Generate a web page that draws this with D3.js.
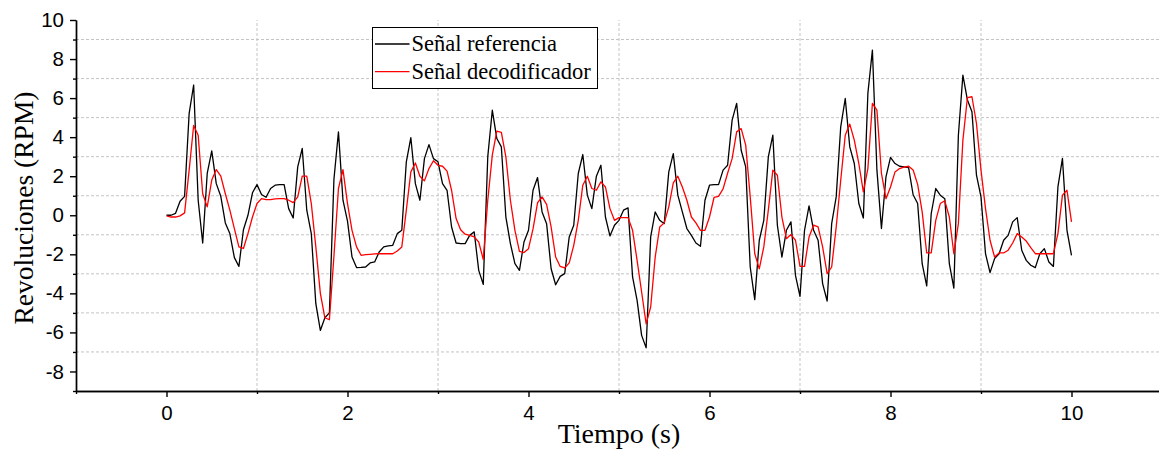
<!DOCTYPE html>
<html>
<head>
<meta charset="utf-8">
<script src="https://cdn.jsdelivr.net/npm/d3@7"></script>
<style>
  body { margin: 0; background: #fff; }
  .tick text { font-family: "Liberation Sans", Arial, sans-serif; font-size: 20.5px; fill: #000; }
  .grid line { stroke: #c4c4c4; stroke-width: 1; stroke-dasharray: 3,2; }
</style>
</head>
<body>
<svg id="chart" width="1159" height="452"></svg>
<script>
// muestreo cada 0.05 s, de 0 a 10 s
const step = 0.05;

const referencia = [
  0, 0, 0.1, 0.72, 0.97, 5.2, 6.67, 0.77, -1.42, 2.14, 3.3,
  1.62, 0.97, -0.39, -0.94, -2.17, -2.62, -0.74, 0, 1.15, 1.57,
  1.06, 0.92, 1.37, 1.54, 1.57, 1.57, 0.34, -0.14, 2.48, 3.42,
  0.26, -0.94, -4.53, -5.9, -5.25, -5.0, 1.83, 4.27, 0.77, -0.3,
  -2.14, -2.68, -2.67, -2.65, -2.44, -2.39, -1.88, -1.62, -1.57, -1.54,
  -0.94, -0.77, 2.74, 3.97, 1.62, 0.77, 2.9, 3.62, 2.9, 2.74,
  1.62, 1.28, -0.6, -1.42, -1.45, -1.45, -1.03, -0.85, -2.82, -3.54,
  3.0, 5.38, 3.93, 3.5, -0.09, -1.45, -2.48, -2.82, -1.37, -0.77,
  1.28, 1.93, 0.17, -0.43, -2.74, -3.56, -3.13, -2.99, -1.11, -0.51,
  2.14, 3.11, 1.03, 0.34, 2.0, 2.56, -0.09, -1.06, -0.51, -0.26,
  0.26, 0.38, -3.16, -4.36, -6.15, -6.79, -1.11, 0.17, -0.26, -0.43,
  2.22, 3.16, 1.03, 0.17, -0.68, -1.03, -1.42, -1.59, 0.77, 1.54,
  1.57, 1.57, 2.31, 2.56, 4.87, 5.73, 3.33, 2.48, -2.65, -4.32,
  -1.28, -0.26, 2.99, 4.1, -0.51, -2.14, -0.77, -0.34, -3.08, -4.15,
  -0.77, 0.48, -0.77, -1.28, -3.5, -4.39, -0.43, 0.94, 4.53, 5.98,
  3.5, 2.65, 0.6, -0.14, 6.24, 8.46, 2.31, -0.68, 1.97, 2.96,
  2.65, 2.51, 2.48, 2.44, 1.05, 0.6, -2.48, -3.62, 0.09, 1.37,
  1.03, 0.85, -2.48, -3.73, 4.1, 7.18, 5.9, 5.3, 2.05, 0.94,
  -1.97, -2.94, -2.22, -1.97, -1.28, -1.03, -0.34, -0.12, -1.79, -2.31,
  -2.56, -2.68, -1.97, -1.71, -2.39, -2.62, 1.45, 2.91, -0.77, -2.05
];

const decodificador = [
  -0.03, -0.09, -0.09, -0.03, 0.12, 2.3, 4.6, 4.1, 1.1, 0.43, 1.8,
  2.34, 2.0, 1.1, 0.26, -0.68, -1.62, -1.7, -0.94, -0.09, 0.6,
  0.85, 0.8, 0.8, 0.84, 0.85, 0.85, 0.77, 0.65, 0.94, 2.0,
  2.0, 0.6, -1.62, -4.0, -5.25, -5.35, -2.1, 1.37, 2.34, 0.6,
  -0.77, -1.62, -2.05, -2.02, -2.0, -1.98, -1.97, -1.97, -1.97, -1.97,
  -1.83, -1.62, 0.26, 2.22, 2.68, 2.0, 1.76, 2.39, 2.79, 2.56,
  2.51, 2.26, 1.28, -0.17, -0.74, -0.97, -1.03, -1.11, -1.37, -2.26,
  0.77, 3.08, 4.31, 4.24, 2.99, 0.77, -0.77, -1.85, -1.91, -1.71,
  -0.7, 0.64, 0.94, 0.56, -0.6, -2.14, -2.62, -2.7, -2.44, -1.54,
  -0.26, 1.54, 2.0, 1.37, 1.28, 1.71, 1.45, 0.34, -0.26, -0.12,
  -0.12, -0.12, -0.77, -2.31, -3.93, -5.56, -4.7, -2.14, -0.6, -0.39,
  0.43, 1.66, 2.0, 1.45, 0.77, -0.09, -0.39, -0.77, -0.77, -0.09,
  0.91, 0.97, 1.35, 2.15, 2.9, 4.27, 4.44, 3.59, 0.94, -1.97,
  -2.74, -1.62, 0.26, 2.31, 2.05, -0.09, -1.2, -0.99, -1.28, -2.62,
  -2.62, -1.11, -0.51, -0.6, -1.62, -2.99, -2.65, -0.6, 1.79, 4.1,
  4.67, 3.85, 2.65, 1.2, 2.39, 5.73, 5.38, 2.14, 0.85, 1.45,
  2.22, 2.39, 2.46, 2.51, 2.32, 1.58, 0.17, -1.93, -1.93, -0.26,
  0.6, 0.74, -0.09, -1.97, -0.43, 3.85, 6.03, 6.07, 4.7, 2.31,
  0.34, -1.28, -2.14, -1.93, -1.93, -1.79, -1.42, -0.94, -1.11, -1.32,
  -1.66, -1.97, -1.97, -1.97, -1.97, -1.97, -0.94, 1.03, 1.28, -0.34
];

const xTicks = [0, 2, 4, 6, 8, 10];
const xMinor = [-1, 1, 3, 5, 7, 9, 11];
const yTicks = [-8, -6, -4, -2, 0, 2, 4, 6, 8, 10];
const yMinor = [-9, -7, -5, -3, -1, 1, 3, 5, 7, 9];

const series = [
  { name: "Señal referencia", values: referencia, color: "#000" },
  { name: "Señal decodificador", values: decodificador, color: "#ff0000" }
];

const svg = d3.select("#chart");

const x = d3.scaleLinear().domain([-1, 11]).range([76, 1162]);
const y = d3.scaleLinear().domain([-9, 10]).range([391, 20]);

// rejilla en los valores impares
svg.append("g").attr("class", "grid")
  .selectAll("line").data(xMinor.filter(d => d > -1 && d < 11)).join("line")
  .attr("x1", d => x(d)).attr("x2", d => x(d))
  .attr("y1", y(-9)).attr("y2", y(10));

svg.append("g").attr("class", "grid")
  .selectAll("line").data(yMinor.filter(d => d > -9)).join("line")
  .attr("x1", x(-1)).attr("x2", x(11))
  .attr("y1", d => y(d)).attr("y2", d => y(d));

const line = d3.line()
  .x((d, i) => x(i * step))
  .y(d => y(d));

svg.append("g")
  .selectAll("path").data(series).join("path")
  .attr("fill", "none")
  .attr("stroke", d => d.color)
  .attr("stroke-width", 1.3)
  .attr("stroke-linejoin", "round")
  .attr("d", d => line(d.values));

// ejes (guion normal en los negativos)
const fmt = d => String(d);

const gx = svg.append("g").attr("transform", `translate(0,${y(-9)})`);
gx.call(d3.axisBottom(x).tickValues(xTicks).tickSize(6).tickSizeOuter(0).tickPadding(8).tickFormat(fmt));
gx.append("g").call(d3.axisBottom(x).tickValues(xMinor).tickSize(3).tickSizeOuter(0).tickFormat(""));

const gy = svg.append("g").attr("transform", `translate(${x(-1)},0)`);
gy.call(d3.axisLeft(y).tickValues(yTicks).tickSize(6).tickSizeOuter(0).tickPadding(6).tickFormat(fmt));
gy.append("g").call(d3.axisLeft(y).tickValues(yMinor).tickSize(3).tickSizeOuter(0).tickFormat(""));

svg.selectAll(".domain, .tick line").attr("stroke", "#000").attr("stroke-width", 1.4);

// títulos
svg.append("text")
  .attr("x", x(5)).attr("y", 443)
  .attr("text-anchor", "middle")
  .style("font-family", "'Liberation Serif', 'Times New Roman', serif")
  .style("font-size", "28px")
  .text("Tiempo (s)");

svg.append("text")
  .attr("transform", `translate(33,208) rotate(-90)`)
  .attr("text-anchor", "middle")
  .style("font-family", "'Liberation Serif', 'Times New Roman', serif")
  .style("font-size", "27.5px")
  .text("Revoluciones (RPM)");

// leyenda
const legend = svg.append("g").attr("transform", "translate(372.5,27.5)");
legend.append("rect")
  .attr("width", 225).attr("height", 61)
  .attr("fill", "#fff").attr("stroke", "#000").attr("stroke-width", 1);
const item = legend.selectAll("g.item").data(series).join("g")
  .attr("class", "item")
  .attr("transform", (d, i) => `translate(0,${16.5 + i * 27.7})`);
item.append("line")
  .attr("x1", 2.5).attr("x2", 37)
  .attr("stroke", d => d.color).attr("stroke-width", 1.3);
item.append("text")
  .attr("x", 39).attr("dy", "0.32em")
  .style("font-family", "'Liberation Serif', 'Times New Roman', serif")
  .style("font-size", "22.5px")
  .text(d => d.name);
</script>
</body>
</html>
